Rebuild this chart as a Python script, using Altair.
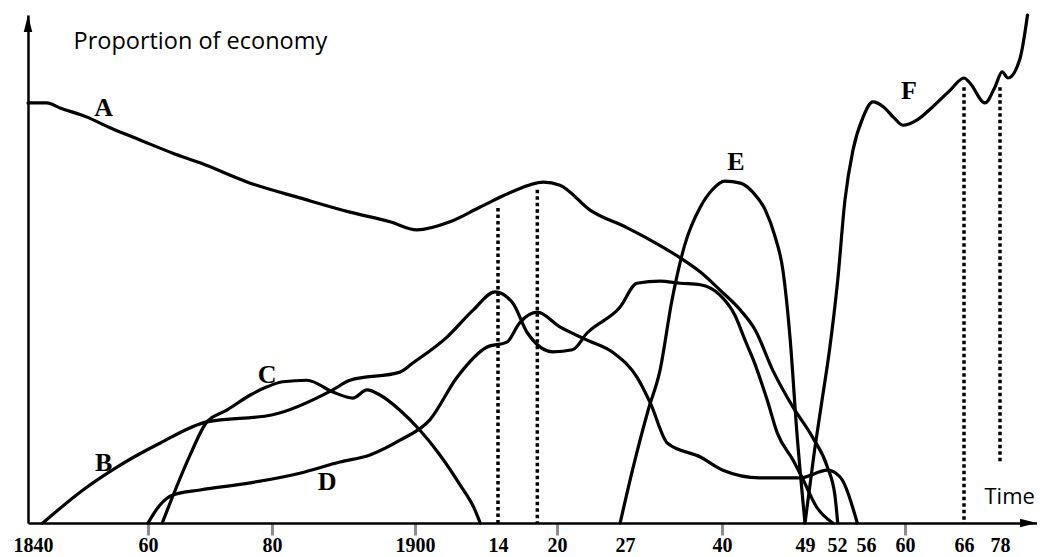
import altair as alt
import pandas as pd

# ---- axis ticks / labels ----
tick_years = [1840, 1860, 1880, 1900, 1914, 1920, 1927, 1940, 1949, 1952, 1956, 1960, 1966, 1978]
tick_labels = ["1840", "60", "80", "1900", "14", "20", "27", "40", "49", "52", "56", "60", "66", "78"]
marked_ticks = [1860, 1880, 1900, 1920, 1940, 1960]

# piecewise (uneven) time axis of the original drawing
x_domain = [1839, 1840, 1860, 1880, 1900, 1914, 1920, 1927, 1940, 1949, 1952, 1956, 1960, 1966, 1978, 1985]
x_range = [0, 5, 120, 244, 387, 470, 529, 597, 694, 777, 809, 838, 877, 936, 972, 1009]

# ---- curves (year, proportion) ----
a_year = [1839.0, 1842.4, 1844.7, 1849.4, 1853.4, 1858.6, 1864.0, 1868.4, 1876.5, 1883.9, 1890.9, 1896.5,
          1900.3, 1905.9, 1911.0, 1915.2, 1918.6, 1920.3, 1923.4, 1927.3, 1930.4, 1934.4, 1937.1, 1939.7,
          1942.0, 1943.6, 1945.5, 1947.7, 1949.7, 1951.1, 1951.8, 1952.1]
a_val = [82.7, 82.7, 81.7, 79.9, 77.8, 75.4, 72.8, 70.9, 66.9, 64.0, 61.2, 59.3,
         57.7, 59.3, 62.2, 65.0, 67.1, 66.5, 61.6, 58.1, 55.7, 52.2, 49.4, 45.9,
         41.9, 38.0, 30.1, 22.8, 16.9, 11.0, 5.5, 0.0]

b_year = [1841.7, 1848.7, 1854.6, 1861.9, 1869.5, 1880.1, 1888.5, 1890.9, 1897.9, 1899.7, 1905.4, 1909.8,
          1913.5, 1915.5, 1917.0, 1919.6, 1921.6, 1923.1, 1926.5, 1928.6, 1931.7, 1934.4, 1937.1, 1939.7,
          1941.4, 1942.5, 1943.4, 1944.9, 1946.0, 1947.7, 1948.8, 1950.1, 1951.6]
b_val = [0.0, 6.5, 11.0, 15.7, 19.9, 21.3, 26.2, 28.1, 29.7, 31.5, 36.6, 41.9,
         45.5, 43.3, 37.4, 33.7, 34.1, 37.4, 42.5, 47.2, 47.6, 47.2, 46.9, 44.9,
         40.9, 36.0, 32.1, 24.2, 17.7, 12.4, 8.5, 3.1, 0.0]

c_year = [1862.3, 1864.4, 1866.8, 1869.5, 1872.7, 1876.5, 1879.2, 1881.5, 1884.9, 1888.5, 1891.3, 1893.3,
          1895.1, 1897.9, 1900.8, 1904.2, 1907.6, 1910.1, 1911.0]
c_val = [0.0, 6.5, 13.4, 19.9, 22.2, 25.2, 26.8, 27.8, 28.1, 25.8, 24.6, 26.2,
         25.2, 22.2, 18.3, 13.4, 7.5, 2.6, 0.0]

d_year = [1860.0, 1861.9, 1864.0, 1868.4, 1876.5, 1883.9, 1889.5, 1893.7, 1897.9, 1902.5, 1907.1, 1912.1,
          1914.9, 1916.2, 1918.0, 1920.3, 1923.1, 1925.8, 1928.6, 1930.4, 1932.7, 1937.1, 1940.1, 1944.1,
          1948.5, 1951.1, 1952.4, 1954.8]
d_val = [0.0, 3.5, 5.5, 6.5, 7.9, 9.8, 12.0, 13.4, 16.3, 20.3, 28.7, 34.6,
         35.6, 39.4, 41.5, 38.6, 36.0, 33.5, 28.7, 23.6, 15.7, 13.0, 10.4, 8.9,
         8.9, 10.4, 9.1, 0.0]

e_year = [1926.5, 1928.1, 1930.1, 1931.7, 1933.3, 1935.0, 1937.1, 1938.7, 1940.3, 1942.0, 1943.4, 1944.7,
          1945.7, 1946.6, 1947.4, 1948.1, 1949.0]
e_val = [0.0, 11.0, 22.2, 30.1, 43.9, 54.7, 62.2, 65.6, 67.3, 66.9, 65.0, 61.6,
         56.7, 49.8, 36.0, 18.3, 0.0]

f_year = [1949.0, 1949.9, 1950.6, 1951.3, 1952.1, 1953.1, 1954.2, 1955.6, 1956.7, 1957.8, 1958.8, 1959.8,
          1961.2, 1962.8, 1964.6, 1966.0, 1968.0, 1973.0, 1976.3, 1978.4, 1979.5, 1981.8, 1983.2]
f_val = [0.0, 14.4, 24.2, 34.1, 47.8, 63.6, 73.4, 79.9, 82.9, 81.9, 79.9, 78.3,
         79.3, 81.9, 85.2, 87.6, 86.6, 82.7, 85.8, 88.8, 87.6, 91.5, 100.0]

# ---- dotted reference lines ----
dot_year = [1914, 1918, 1966, 1978]
dot_top = [62.0, 65.6, 85.8, 85.8]
dot_bottom = [0.0, 0.0, 0.0, 12.0]

# ---- curve letters ----
lab_text = ["A", "B", "C", "D", "E", "F"]
lab_year = [1852.3, 1852.3, 1879.2, 1887.7, 1941.5, 1960.4]
lab_val = [81.7, 11.8, 29.1, 8.1, 71.1, 85.0]

rows = []
for name, ys, vs in [("A", a_year, a_val), ("B", b_year, b_val), ("C", c_year, c_val),
                     ("D", d_year, d_val), ("E", e_year, e_val), ("F", f_year, f_val)]:
    for i, (yr, v) in enumerate(zip(ys, vs)):
        rows.append({"series": name, "year": yr, "value": v, "order": i})
curves = pd.DataFrame(rows)

dots = pd.DataFrame({"year": dot_year, "value": dot_top, "bottom": dot_bottom})
labels = pd.DataFrame({"year": lab_year, "value": lab_val, "label": lab_text})
x_arrow = pd.DataFrame({"year": [x_domain[-1]], "value": [0.0]})
y_arrow = pd.DataFrame({"year": [x_domain[0]], "value": [100.0]})

label_expr = "''"
for yr, lb in reversed(list(zip(tick_years, tick_labels))):
    label_expr = f"datum.value == {yr} ? '{lb}' : ({label_expr})"

tick_test = "indexof([" + ",".join(str(t) for t in marked_ticks) + "], datum.value) >= 0"

x_enc = alt.X(
    "year:Q",
    scale=alt.Scale(domain=x_domain, range=x_range, nice=False, zero=False),
    axis=alt.Axis(
        values=tick_years, labelExpr=label_expr, grid=False,
        title="Time", titleX=956, titleY=-20, titleAlign="left", titleAngle=0,
        titleBaseline="alphabetic", titleFont="Open Sans", titleFontSize=22,
        titleFontWeight="normal", titleColor="black",
        domainColor="black", domainWidth=2.5,
        tickColor="#8c8c8c", tickWidth=3, tickSize=12,
        tickOpacity={"condition": {"test": tick_test, "value": 1}, "value": 0},
        labelFont="Liberation Serif", labelFontWeight="bold", labelFontSize=20,
        labelColor="black", labelPadding=0, labelOverlap=False, labelFlush=False,
        labelBound=False, labelAngle=0,
    ),
)
y_enc = alt.Y(
    "value:Q",
    scale=alt.Scale(domain=[0, 100], nice=False, zero=True),
    axis=alt.Axis(
        labels=False, ticks=False, grid=False,
        domainColor="black", domainWidth=2.5,
        title="Proportion of economy", titleAngle=0, titleX=45, titleY=33,
        titleAlign="left", titleBaseline="alphabetic", titleFont="Open Sans",
        titleFontSize=23.5, titleFontWeight="normal", titleColor="black",
    ),
)

lines = alt.Chart(curves).mark_line(
    color="black", strokeWidth=3.2, interpolate="monotone", strokeCap="round", strokeJoin="round"
).encode(x=x_enc, y=y_enc, detail="series:N", order="order:Q")

dotted = alt.Chart(dots).mark_rule(
    color="black", strokeWidth=3.5, strokeDash=[3.5, 3]
).encode(x=x_enc, y=y_enc, y2="bottom:Q")

letters = alt.Chart(labels).mark_text(
    font="Liberation Serif", fontWeight="bold", fontSize=26, color="black",
    align="center", baseline="middle"
).encode(x=x_enc, y=y_enc, text="label:N")

arrow_right = alt.Chart(x_arrow).mark_point(
    shape="M -2 -0.5 L 0 0 L -2 0.5 Z", filled=True, size=289, color="black", opacity=1, strokeWidth=0
).encode(x=x_enc, y=y_enc)

arrow_up = alt.Chart(y_arrow).mark_point(
    shape="M -0.5 2 L 0 0 L 0.5 2 Z", filled=True, size=289, color="black", opacity=1, strokeWidth=0
).encode(x=x_enc, y=y_enc)

chart = alt.layer(lines, dotted, letters, arrow_right, arrow_up).properties(
    width=1009, height=508,
    padding={"left": 20, "top": 7, "right": 0, "bottom": 34},
    autosize=alt.AutoSizeParams(type="none"),
    background="white",
).configure_view(stroke=None)

chart.save("out.html", embed_options={"renderer": "svg", "actions": False})
